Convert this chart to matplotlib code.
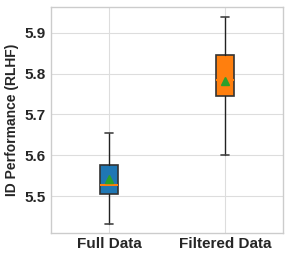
import matplotlib
matplotlib.use("Agg")
import matplotlib.pyplot as plt

# values
labels = ["Full Data", "Filtered Data"]
medians = [5.528, 5.785]
means = [5.541, 5.783]
q1 = [5.505, 5.746]
q3 = [5.576, 5.846]
whislo = [5.431, 5.600]
whishi = [5.655, 5.938]
colors = ["#1f77b4", "#ff7f0e"]

plt.style.use("seaborn-v0_8-whitegrid")
plt.rcParams["font.family"] = ["Liberation Sans", "DejaVu Sans"]
plt.rcParams["grid.color"] = "#dddddd"

stats = []
for i in range(len(labels)):
    stats.append({
        "label": labels[i], "med": medians[i], "mean": means[i],
        "q1": q1[i], "q3": q3[i], "whislo": whislo[i], "whishi": whishi[i],
        "fliers": [],
    })

fig, ax = plt.subplots(figsize=(2.91, 2.60), dpi=100)
bp = ax.bxp(stats, showmeans=True, patch_artist=True, widths=0.15,
            boxprops=dict(edgecolor="#333333", linewidth=1.2),
            whiskerprops=dict(color="#222222", linewidth=1),
            capprops=dict(color="#444444", linewidth=1.2),
            medianprops=dict(color="#ff7f0e", linewidth=1.5),
            meanprops=dict(marker="^", markerfacecolor="#2ca02c",
                           markeredgecolor="#2ca02c", markersize=6))
for patch, c in zip(bp["boxes"], colors):
    patch.set_facecolor(c)

for s in ax.spines.values():
    s.set_color("#cccccc")

ax.set_xlim(0.5, 2.5)
ax.set_ylim(5.41, 5.963)
ax.set_yticks([5.5, 5.6, 5.7, 5.8, 5.9])
ax.set_ylabel("ID Performance (RLHF)", fontsize=10, fontweight="bold")
for t in ax.get_xticklabels() + ax.get_yticklabels():
    t.set_fontweight("bold")
    t.set_fontsize(11)
ax.tick_params(axis="x", pad=3)

plt.subplots_adjust(left=0.175, right=0.973, top=0.973, bottom=0.104)
fig.savefig("out.png", dpi=100)
